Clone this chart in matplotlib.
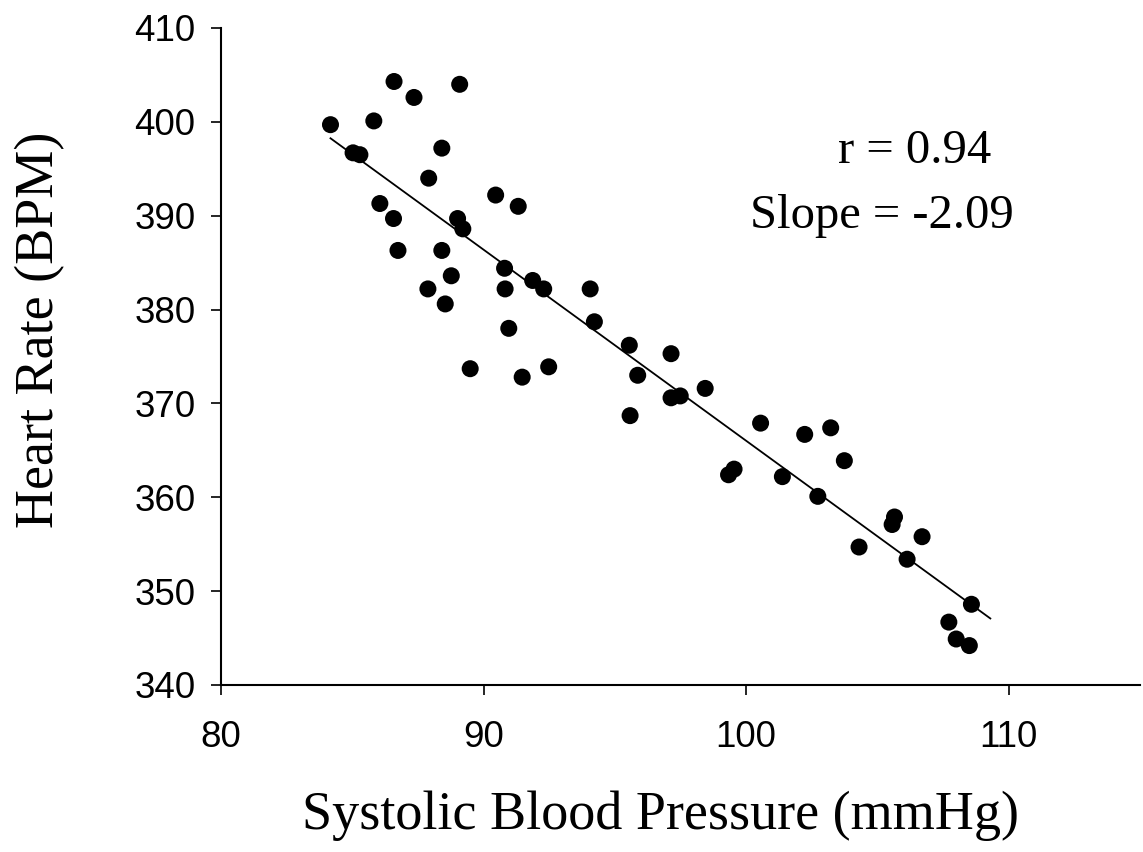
import numpy as np
import matplotlib
matplotlib.use('Agg')
from matplotlib import pyplot as plt

# values
sbp = [84.17, 85.03, 85.29, 85.82, 86.59, 87.35, 89.09, 88.41, 87.91, 86.05,
       86.57, 86.74, 88.41, 89.01, 89.21, 90.46, 91.32, 87.88, 88.77, 88.54,
       90.96, 89.49, 91.47, 92.48, 90.80, 90.82, 91.87, 92.29, 94.06, 94.22,
       95.55, 97.14, 95.87, 95.58, 97.14, 97.49, 98.44, 100.55, 99.33, 99.54,
       101.38, 102.23, 103.22, 103.74, 102.73, 104.30, 105.65, 105.56, 106.70, 106.13,
       108.58, 107.72, 108.00, 108.50]
hr = [399.7, 396.7, 396.5, 400.1, 404.3, 402.6, 404.0, 397.2, 394.0, 391.3,
      389.7, 386.3, 386.3, 389.7, 388.6, 392.2, 391.0, 382.2, 383.6, 380.6,
      378.0, 373.7, 372.8, 373.9, 384.4, 382.2, 383.1, 382.2, 382.2, 378.7,
      376.2, 375.3, 373.0, 368.7, 370.6, 370.8, 371.6, 367.9, 362.4, 363.0,
      362.2, 366.7, 367.4, 363.9, 360.1, 354.7, 357.9, 357.1, 355.8, 353.4,
      348.6, 346.7, 344.9, 344.2]
fit_range = [84.17, 109.3]
r_text = 'r = 0.94'
slope_text = 'Slope = -2.09'
xticks = [80, 90, 100, 110]
yticks = [340, 350, 360, 370, 380, 390, 400, 410]

sbp = np.array(sbp)
hr = np.array(hr)

fig = plt.figure(figsize=(11.43, 8.52), dpi=100)
ax = fig.add_axes([221/1143, 1-685/852, (1140-221)/1143, (685-28)/852])

ax.scatter(sbp, hr, s=150, color='black', edgecolors='none', zorder=3)

# regression line
k, b = np.polyfit(sbp, hr, 1)
lx = np.array(fit_range)
ax.plot(lx, k*lx + b, color='black', lw=1.3, zorder=2)

ax.set_xlim(80, 115)
ax.set_ylim(340, 410)
ax.set_xticks(xticks)
ax.set_yticks(yticks)
for s in ['top', 'right']:
    ax.spines[s].set_visible(False)
for s in ['left', 'bottom']:
    ax.spines[s].set_linewidth(1.5)
ax.tick_params(direction='out', length=7.5, width=1.2, labelsize=26.5)
ax.tick_params(axis='x', pad=18)
ax.tick_params(axis='y', pad=11)
for lab in ax.get_xticklabels() + ax.get_yticklabels():
    lab.set_fontfamily('Liberation Sans')

serif = 'Liberation Serif'
fig.text(660/1143, 1-829/852, 'Systolic Blood Pressure (mmHg)', ha='center',
         va='baseline', fontsize=39, family=serif)
fig.text(53/1143, 1-330/852, 'Heart Rate (BPM)', ha='center', va='baseline',
         rotation=90, fontsize=39, family=serif, rotation_mode='anchor')
ax.text(0.671, 0.795, r_text, transform=ax.transAxes, ha='left', va='baseline',
        fontsize=35, family=serif)
ax.text(0.576, 0.696, slope_text, transform=ax.transAxes, ha='left', va='baseline',
        fontsize=35, family=serif)

fig.savefig('out.png', dpi=100)
